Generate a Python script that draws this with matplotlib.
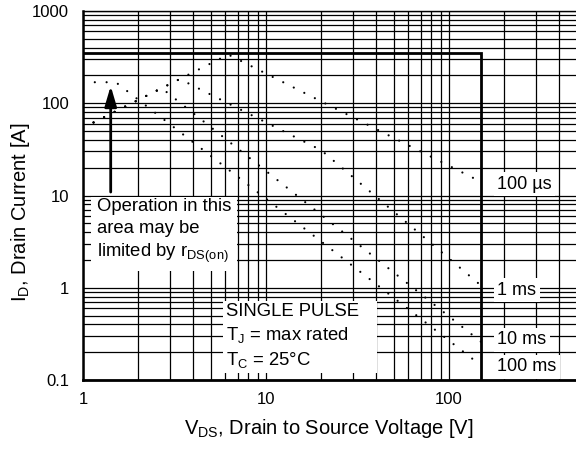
import matplotlib
matplotlib.use("Agg")
import matplotlib.pyplot as plt
from matplotlib.patches import ArrowStyle

plt.rcParams['font.family'] = ['Liberation Sans', 'DejaVu Sans']
plt.rcParams['mathtext.fontset'] = 'custom'
plt.rcParams['mathtext.rm'] = 'Liberation Sans'
plt.rcParams['mathtext.it'] = 'Liberation Sans:italic'

# ---- data ----
v_100us = [1.0, 6.22, 150.0]
i_100us = [54.2, 337.0, 14.0]

v_1ms = [1.0, 3.38, 20.0, 150.0]
i_1ms = [54.2, 183.0, 31.0, 1.05]

v_10ms = [1.0, 2.69, 150.0]
i_10ms = [54.2, 145.8, 0.258]

v_100ms = [1.0, 1.51, 150.0]
i_100ms = [169.0, 169.0, 0.143]

v_limit = [1.0, 150.0, 150.0]
i_limit = [348.0, 348.0, 0.1]

curve_labels = ["100 \u00b5s", "1 ms", "10 ms", "100 ms"]
label_y = [13.3, 0.94, 0.272, 0.139]
label_x = 183.0

x_ticks = [1, 10, 100]
x_ticklabels = ["1", "10", "100"]
y_ticks = [0.1, 1, 10, 100, 1000]
y_ticklabels = ["0.1", "1", "10", "100", "1000"]

# ---- figure ----
fig = plt.figure(figsize=(5.76, 4.49), dpi=100)
ax = fig.add_axes([83 / 576, 69 / 449, 494 / 576, 369 / 449])
ax.set_xscale('log')
ax.set_yscale('log')
ax.set_xlim(1, 500)
ax.set_ylim(0.1, 1000)
ax.set_axisbelow(True)
ax.grid(True, which='both', color='black', lw=0.9)

ax.set_xticks(x_ticks)
ax.set_xticklabels(x_ticklabels)
ax.set_yticks(y_ticks)
ax.set_yticklabels(y_ticklabels)
ax.tick_params(which='both', length=0, labelsize=12)
ax.tick_params(axis='y', pad=10)
ax.tick_params(axis='x', pad=9)

ax.spines['right'].set_visible(False)
ax.spines['top'].set_linewidth(1.0)
ax.spines['left'].set_linewidth(1.8)
ax.spines['bottom'].set_linewidth(2.0)

dot = (0, (0.01, 5.3))
for v, i in [(v_100us, i_100us), (v_1ms, i_1ms), (v_10ms, i_10ms), (v_100ms, i_100ms)]:
    ax.plot(v, i, color='black', lw=1.6, linestyle=dot, dash_capstyle='round', zorder=2)

ax.plot(v_limit, i_limit, color='black', lw=2.0, solid_joinstyle='miter', zorder=2.5)

box = dict(facecolor='white', edgecolor='none', pad=2.5)
for lab, y in zip(curve_labels, label_y):
    ax.text(label_x, y, lab, fontsize=13, va='center', ha='left', bbox=box, zorder=3)

ax.text(1.193, 9.3, "Operation in this\narea may be\nlimited by r$_{\\rm DS(on)}$",
        fontsize=13.3, va='top', ha='left', linespacing=1.35,
        bbox=dict(facecolor='white', edgecolor='none', pad=4), zorder=3)

ax.text(6.05, 0.686, "SINGLE PULSE   \nT$_{\\rm J}$ = max rated\nT$_{\\rm C}$ = 25\u00b0C",
        fontsize=13.3, va='top', ha='left', linespacing=1.35,
        bbox=dict(facecolor='white', edgecolor='none', pad=2), zorder=3)

ax.annotate('', xy=(1.417, 154), xytext=(1.417, 10.9),
            arrowprops=dict(arrowstyle=ArrowStyle('-|>', head_length=1.22, head_width=0.36),
                            mutation_scale=10, lw=2, color='black', shrinkA=0, shrinkB=0),
            zorder=4)

fig.text(329 / 576, 1 - 428 / 449, "V$_{\\rm DS}$, Drain to Source Voltage [V]",
         fontsize=14.5, ha='center', va='center')
fig.text(21 / 576, 1 - 212 / 449, "I$_{\\rm D}$, Drain Current [A]",
         fontsize=14.5, ha='center', va='center', rotation=90)

fig.savefig("out.png", dpi=100)
